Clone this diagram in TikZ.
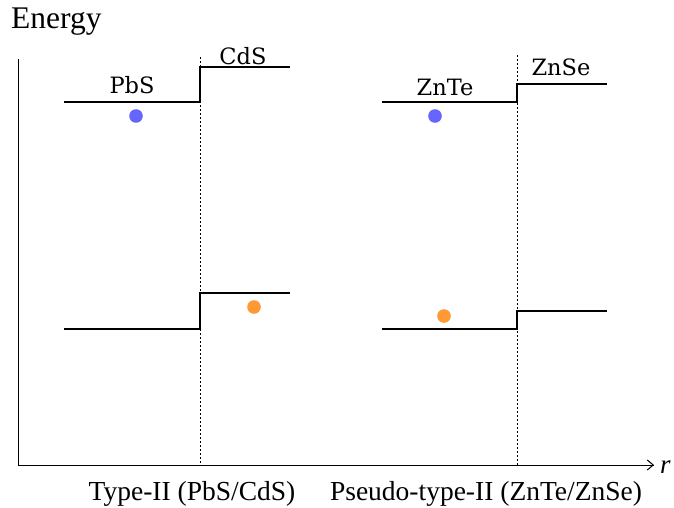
\documentclass[tikz,border=0pt]{standalone}
\usepackage{fontspec}
\setmainfont{Liberation Serif}
\newfontfamily\matfont{DejaVu Serif}
\usetikzlibrary{arrows.meta}
\tikzset{
  level/.style={line width=2pt, line join=miter},
  axis/.style={line width=1pt},
  iface/.style={line width=0.7pt, dash pattern=on 2pt off 2pt},
  mat/.style={font=\matfont\fontsize{22.5}{22.5}\selectfont, inner sep=0pt},
  caption/.style={font=\fontsize{27.5}{27.5}\selectfont, inner sep=0pt},
  hole/.style={fill=blue!60, draw=none},
  electron/.style={fill={rgb,255:red,255;green,153;blue,51}, draw=none}
}
\begin{document}
\begin{tikzpicture}[x=1pt, y=-1pt]
\useasboundingbox (0,0) rectangle (674,508);

% axes
\coordinate (origin) at (18,465);
\coordinate (ytop) at (18,59);
\coordinate (xend) at (654,465);
\draw[axis] (ytop) -- (origin) -- (xend);
\draw[axis, -{Straight Barb[length=6pt, width=10pt]}] (origin) -- (xend);
\node[font=\fontsize{31.5}{31.5}\selectfont, anchor=west, inner sep=0pt] (energy) at (11,22) {Energy};
\node[font=\fontsize{27}{27}\itshape, anchor=west, inner sep=0pt] (r) at (660,467) {r};

% interfaces
\coordinate (ifA top) at (200,57);
\coordinate (ifA bot) at (200,465);
\coordinate (ifB top) at (517,55);
\coordinate (ifB bot) at (517,465);
\draw[iface] (ifA top) -- (ifA bot);
\draw[iface] (ifB top) -- (ifB bot);

% type-II (PbS/CdS)
\coordinate (a1) at (64,102);
\coordinate (a2) at (200,102);
\coordinate (a3) at (200,67);
\coordinate (a4) at (290,67);
\draw[level] (a1) -- (a2) -- (a3) -- (a4);
\coordinate (b1) at (64,329);
\coordinate (b2) at (200,329);
\coordinate (b3) at (200,293);
\coordinate (b4) at (290,293);
\draw[level] (b1) -- (b2) -- (b3) -- (b4);
\node[mat] (pbs) at (132,85) {PbS};
\node[mat] (cds) at (243,56) {CdS};
\fill[hole] (136,116) circle (6.8);
\fill[electron] (254,307) circle (6.8);
\node[caption] (capA) at (192,494) {Type-II (PbS/CdS)};

% pseudo-type-II (ZnTe/ZnSe)
\coordinate (c1) at (382,102);
\coordinate (c2) at (517,102);
\coordinate (c3) at (517,84);
\coordinate (c4) at (607,84);
\draw[level] (c1) -- (c2) -- (c3) -- (c4);
\coordinate (d1) at (382,329);
\coordinate (d2) at (517,329);
\coordinate (d3) at (517,311);
\coordinate (d4) at (607,311);
\draw[level] (d1) -- (d2) -- (d3) -- (d4);
\node[mat] (znte) at (445,87) {ZnTe};
\node[mat] (znse) at (561,67) {ZnSe};
\fill[hole] (435,116) circle (6.8);
\fill[electron] (444,316) circle (6.8);
\node[caption] (capB) at (486,494) {Pseudo-type-II (ZnTe/ZnSe)};
\end{tikzpicture}
\end{document}
